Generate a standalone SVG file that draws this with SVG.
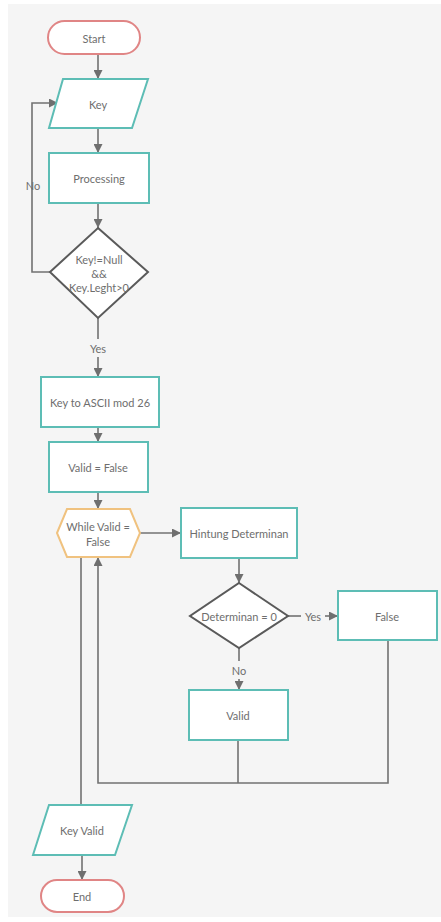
<svg xmlns="http://www.w3.org/2000/svg" width="441" height="922" viewBox="0 0 441 922">
<defs>
<marker id="ah" viewBox="0 0 10 10" refX="10" refY="5" markerWidth="9" markerHeight="9" markerUnits="userSpaceOnUse" orient="auto">
<path d="M0,0 L10,5 L0,10 Z" fill="#6f6f6f"/>
</marker>
</defs>
<style>
.t{font-family:Lato,"Open Sans",sans-serif;font-size:11px;fill:#6e6e6e;text-anchor:middle;dominant-baseline:central}
.pr{fill:#fff;stroke:#5dbdb5;stroke-width:2}
.term{fill:#fff;stroke:#e08585;stroke-width:2}
.dec{fill:#fff;stroke:#5a5a5a;stroke-width:2}
.hex{fill:#fff;stroke:#f0c27f;stroke-width:2}
.c{fill:none;stroke:#727272;stroke-width:1.6}
.a{marker-end:url(#ah)}
</style>
<rect width="441" height="922" fill="#fff"/>
<rect x="8" y="4" width="433" height="913" fill="#f5f5f5"/>
<g id="connectors">
<line class="c a" x1="98" y1="55" x2="98" y2="79"/>
<line class="c a" x1="98" y1="128" x2="98" y2="153"/>
<line class="c a" x1="98" y1="203" x2="98" y2="228"/>
<polyline class="c a" points="50,272 32,272 32,103 58,103"/>
<text class="t" x="33" y="185">No</text>
<line class="c" x1="98" y1="318" x2="98" y2="339"/>
<text class="t" x="98" y="348">Yes</text>
<line class="c a" x1="98" y1="357" x2="98" y2="377"/>
<line class="c a" x1="98" y1="427" x2="98" y2="442"/>
<line class="c a" x1="98" y1="492" x2="98" y2="509"/>
<line class="c a" x1="140" y1="533" x2="181" y2="533"/>
<line class="c a" x1="239" y1="558" x2="239" y2="583"/>
<line class="c" x1="288" y1="616" x2="301" y2="616"/>
<text class="t" x="313" y="616">Yes</text>
<line class="c a" x1="325" y1="616" x2="338" y2="616"/>
<line class="c" x1="239" y1="648" x2="239" y2="661"/>
<text class="t" x="239" y="670">No</text>
<line class="c a" x1="239" y1="679" x2="239" y2="690"/>
<line class="c" x1="238" y1="740" x2="238" y2="783"/>
<polyline class="c a" points="388,640 388,783 98,783 98,557"/>
<line class="c" x1="81" y1="557" x2="81" y2="805"/>
<line class="c a" x1="82" y1="855" x2="82" y2="880"/>
</g>
<g id="start">
<rect class="term" x="48" y="21" width="92" height="33" rx="16.5"/>
<text class="t" x="94" y="38">Start</text>
</g>
<g id="key">
<polygon class="pr" points="63,79 148,79 132,128 49,128"/>
<text class="t" x="98" y="104">Key</text>
</g>
<g id="processing">
<rect class="pr" x="49" y="153" width="100" height="50"/>
<text class="t" x="99" y="178">Processing</text>
</g>
<g id="check">
<polygon class="dec" points="98,228 148,272 98,318 50,272"/>
<text class="t" x="99" y="259">Key!=Null</text>
<text class="t" x="99" y="273">&amp;&amp;</text>
<text class="t" x="99" y="287">Key.Leght&gt;0</text>
</g>
<g id="ascii">
<rect class="pr" x="41" y="377" width="118" height="50"/>
<text class="t" x="100" y="402">Key to ASCII mod 26</text>
</g>
<g id="validfalse">
<rect class="pr" x="49" y="442" width="99" height="50"/>
<text class="t" x="98" y="467">Valid = False</text>
</g>
<g id="while">
<polygon class="hex" points="57,533 67,509 130,509 140,533 130,557 67,557"/>
<text class="t" x="98" y="526">While Valid =</text>
<text class="t" x="98" y="541">False</text>
</g>
<g id="hintung">
<rect class="pr" x="181" y="508" width="116" height="50"/>
<text class="t" x="239" y="533">Hintung Determinan</text>
</g>
<g id="det">
<polygon class="dec" points="239,583 288,616 239,648 190,616"/>
<text class="t" x="239" y="616">Determinan = 0</text>
</g>
<g id="false">
<rect class="pr" x="338" y="591" width="99" height="49"/>
<text class="t" x="387" y="616">False</text>
</g>
<g id="valid">
<rect class="pr" x="189" y="690" width="99" height="50"/>
<text class="t" x="238" y="715">Valid</text>
</g>
<g id="keyvalid">
<polygon class="pr" points="49,805 132,805 115,855 33,855"/>
<text class="t" x="82" y="830">Key Valid</text>
</g>
<g id="end">
<rect class="term" x="41" y="880" width="83" height="32" rx="16"/>
<text class="t" x="82" y="896">End</text>
</g>
</svg>
